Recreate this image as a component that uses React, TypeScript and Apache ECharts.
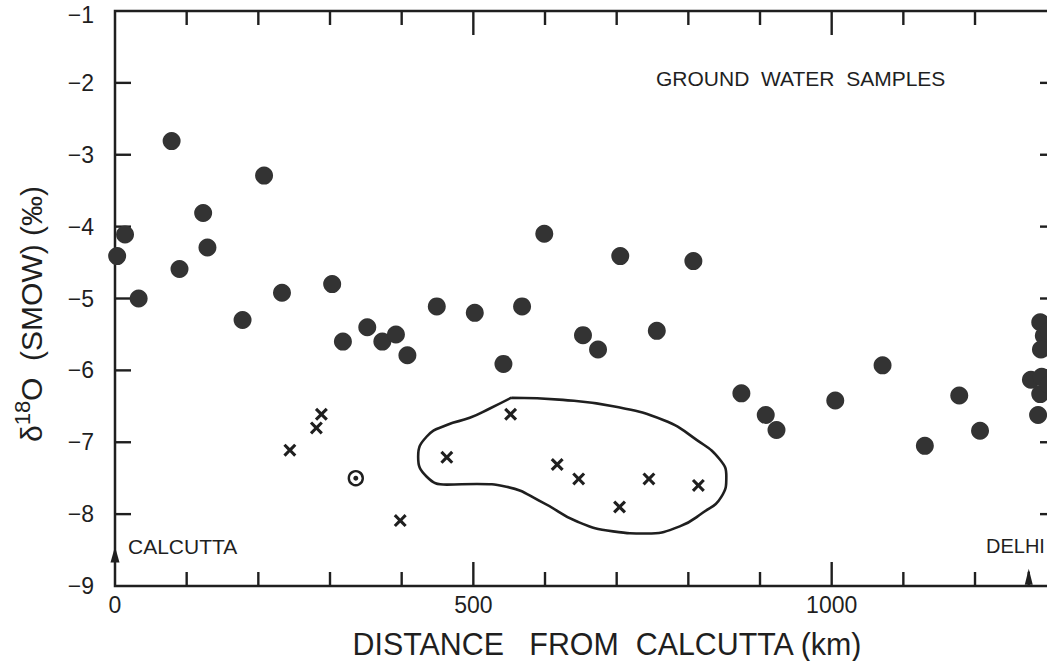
import React, { useEffect, useRef } from "react";
import * as echarts from "echarts";

// ---- axes ----
const X_MIN = 0;
const X_MAX = 1313;
const Y_MIN = -9;
const Y_MAX = -1;
const xLabelValues = [0, 500, 1000];
const xMajorTicks = [500, 1000];
const xMinorTicks = [100, 200, 300, 400, 600, 700, 800, 900, 1100, 1200];
const yTickValues = [-2, -3, -4, -5, -6, -7, -8];

// ---- data (distance from Calcutta in km, delta 18O in permil) ----
const filledDots: [number, number][] = [
  [3, -4.41], [14, -4.11], [33, -5.0], [79, -2.81], [90, -4.59], [123, -3.81],
  [129, -4.29], [208, -3.29], [178, -5.3], [233, -4.92], [303, -4.8], [318, -5.6],
  [352, -5.4], [373, -5.6], [392, -5.5], [408, -5.79], [449, -5.11], [502, -5.2],
  [542, -5.91], [568, -5.11], [599, -4.1], [653, -5.51], [674, -5.71], [705, -4.41],
  [756, -5.45], [807, -4.48], [874, -6.32], [908, -6.62], [923, -6.83], [1005, -6.42],
  [1071, -5.93], [1130, -7.05], [1178, -6.35], [1207, -6.84],
  [1291, -5.33], [1296, -5.52], [1292, -5.71], [1278, -6.13], [1293, -6.09],
  [1291, -6.33], [1288, -6.62], [1303, -5.45], [1303, -6.2],
];

const crosses: [number, number][] = [
  [244, -7.11], [281, -6.8], [288, -6.61], [398, -8.09], [463, -7.21], [552, -6.61],
  [617, -7.31], [647, -7.51], [704, -7.9], [745, -7.51], [814, -7.6],
];

const circledPoint: [number, number][] = [[336, -7.5]];

const enclosure: [number, number][] = [
  [553, -6.38], [625, -6.41], [695, -6.5], [765, -6.69], [812, -6.97], [844, -7.24],
  [853, -7.48], [846, -7.76], [820, -7.98], [788, -8.17], [742, -8.27], [695, -8.24],
  [644, -8.1], [597, -7.84], [546, -7.62], [505, -7.58], [463, -7.59], [435, -7.48],
  [423, -7.2], [435, -6.92], [463, -6.76], [495, -6.66], [523, -6.53], [553, -6.38],
];

const calcuttaTip: [number, number][] = [[0, -8.45]];
const delhiShaft: [number, number][] = [[1275, -9], [1275, -8.8]];
const delhiTip: [number, number][] = [[1275, -8.76]];

const INK = "#1f1f1f";
const DOT = "#333";
const FONT = '"Liberation Sans", Arial, sans-serif';
const CROSS =
  "path://M0,1.7L1.7,0L5,3.3L8.3,0L10,1.7L6.7,5L10,8.3L8.3,10L5,6.7L1.7,10L0,8.3L3.3,5Z";

function xAxisDef(position: "bottom" | "top", labels: boolean) {
  return {
    type: "value",
    position,
    min: X_MIN,
    max: X_MAX,
    interval: 500,
    axisLine: { show: false },
    axisTick: { show: false },
    splitLine: { show: false },
    axisLabel: {
      show: labels,
      showMaxLabel: false,
      margin: 7,
      color: INK,
      fontSize: 23,
      fontFamily: FONT,
      formatter: (v: number) => (xLabelValues.indexOf(v) >= 0 ? String(v) : ""),
    },
  };
}

function yAxisDef(position: "left" | "right", labels: boolean) {
  return {
    type: "value",
    position,
    min: Y_MIN,
    max: Y_MAX,
    interval: 1,
    axisLine: { show: false },
    axisTick: { show: false },
    splitLine: { show: false },
    axisLabel: {
      show: labels,
      margin: 21,
      color: INK,
      fontSize: 23,
      fontFamily: FONT,
      formatter: (v: number) => {
        const s = v < 0 ? "\u2212" + Math.abs(v) : String(v);
        return v === Y_MAX ? "{t|" + s + "}" : s;
      },
      rich: {
        t: { fontSize: 23, fontFamily: FONT, color: INK, lineHeight: 18, padding: [7, 0, 0, 0] },
      },
    },
  };
}

const lineStyle = { stroke: INK, lineWidth: 2.4 };

export default function App() {
  const ref = useRef<HTMLDivElement>(null);

  useEffect(() => {
    if (!ref.current) return;
    const chart = echarts.init(ref.current, null, { renderer: "svg" });
    chart.setOption({
      animation: false,
      backgroundColor: "#ffffff",
      grid: { left: 115, top: 11, width: 941, height: 575, containLabel: false, outerBoundsMode: "none" },
      xAxis: [xAxisDef("bottom", true), xAxisDef("top", false)],
      yAxis: [yAxisDef("left", true), yAxisDef("right", false)],
      series: [
        {
          // plot frame
          type: "custom",
          data: [[X_MIN, Y_MIN]],
          silent: true,
          z: 2,
          renderItem: (_p: any, api: any) => {
            const a = api.coord([X_MIN, Y_MAX]);
            const b = api.coord([X_MAX, Y_MIN]);
            return {
              type: "rect",
              shape: { x: a[0], y: a[1], width: b[0] - a[0], height: b[1] - a[1] },
              style: { fill: "none", stroke: INK, lineWidth: 2.5 },
            };
          },
        },
        {
          // x ticks, bottom and top, pointing inwards
          type: "custom",
          data: [...xMajorTicks, ...xMinorTicks].map((v) => [v, Y_MIN]),
          silent: true,
          z: 2,
          renderItem: (_p: any, api: any) => {
            const v = api.value(0);
            const len = xMajorTicks.indexOf(v) >= 0 ? 24 : 14;
            const b = api.coord([v, Y_MIN]);
            const t = api.coord([v, Y_MAX]);
            return {
              type: "group",
              children: [
                { type: "line", shape: { x1: b[0], y1: b[1], x2: b[0], y2: b[1] - len }, style: lineStyle },
                { type: "line", shape: { x1: t[0], y1: t[1], x2: t[0], y2: t[1] + len }, style: lineStyle },
              ],
            };
          },
        },
        {
          // y ticks, left and right, pointing inwards
          type: "custom",
          data: yTickValues.map((v) => [X_MIN, v]),
          silent: true,
          z: 2,
          renderItem: (_p: any, api: any) => {
            const v = api.value(1);
            const l = api.coord([X_MIN, v]);
            const r = api.coord([X_MAX, v]);
            return {
              type: "group",
              children: [
                { type: "line", shape: { x1: l[0], y1: l[1], x2: l[0] + 16, y2: l[1] }, style: lineStyle },
                { type: "line", shape: { x1: r[0], y1: r[1], x2: r[0] - 16, y2: r[1] }, style: lineStyle },
              ],
            };
          },
        },
        {
          type: "line",
          data: enclosure,
          smooth: 0.5,
          symbol: "none",
          lineStyle: { color: INK, width: 2.6 },
          silent: true,
          z: 1,
        },
        {
          type: "scatter",
          data: filledDots,
          symbol: "circle",
          symbolSize: 18,
          itemStyle: { color: DOT, opacity: 1 },
          clip: false,
          z: 3,
        },
        {
          type: "scatter",
          data: crosses,
          symbol: CROSS,
          symbolSize: 13,
          itemStyle: { color: INK, opacity: 1 },
          z: 3,
        },
        {
          type: "scatter",
          data: circledPoint,
          symbol: "circle",
          symbolSize: 14,
          itemStyle: { color: "#fff", borderColor: INK, borderWidth: 2.4, opacity: 1 },
          z: 3,
        },
        {
          type: "scatter",
          data: circledPoint,
          symbol: "circle",
          symbolSize: 5,
          itemStyle: { color: INK, opacity: 1 },
          z: 4,
        },
        {
          type: "scatter",
          data: calcuttaTip,
          symbol: "triangle",
          symbolSize: [9, 16],
          symbolOffset: [0, 8],
          itemStyle: { color: INK, opacity: 1 },
          clip: false,
          z: 5,
        },
        {
          type: "line",
          data: delhiShaft,
          symbol: "none",
          lineStyle: { color: INK, width: 2.4 },
          z: 5,
        },
        {
          type: "scatter",
          data: delhiTip,
          symbol: "triangle",
          symbolSize: [8, 16],
          symbolOffset: [0, 8],
          itemStyle: { color: INK, opacity: 1 },
          z: 5,
        },
      ],
      graphic: [
        {
          type: "text",
          x: 656,
          y: 78,
          style: {
            text: "GROUND  WATER  SAMPLES",
            fontSize: 21,
            fontFamily: FONT,
            fill: INK,
            textVerticalAlign: "middle",
          },
        },
        {
          type: "text",
          x: 128,
          y: 546,
          style: {
            text: "CALCUTTA",
            fontSize: 21,
            fontFamily: FONT,
            fill: INK,
            textVerticalAlign: "middle",
          },
        },
        {
          type: "text",
          x: 986,
          y: 546,
          style: {
            text: "DELHI",
            fontSize: 20,
            fontFamily: FONT,
            fill: INK,
            textVerticalAlign: "middle",
          },
        },
        {
          type: "text",
          x: 607,
          y: 644,
          scaleX: 0.95,
          style: {
            text: "DISTANCE   FROM  CALCUTTA (km)",
            fontSize: 32,
            fontFamily: FONT,
            fill: INK,
            textAlign: "center",
            textVerticalAlign: "middle",
          },
        },
        {
          type: "text",
          x: 31,
          y: 314,
          rotation: Math.PI / 2,
          style: {
            text: "{a|\u03b4}{s|18}{a|O  (SMOW) (\u2030)}",
            textAlign: "center",
            textVerticalAlign: "middle",
            rich: {
              a: { fontSize: 30, fontFamily: FONT, fill: INK, lineHeight: 40 },
              s: { fontSize: 22, fontFamily: FONT, fill: INK, lineHeight: 22, verticalAlign: "top" },
            },
          },
        },
      ],
    });
    return () => chart.dispose();
  }, []);

  return (
    <div
      style={{
        position: "fixed",
        left: 0,
        top: 0,
        width: 1047,
        height: 661,
        overflow: "hidden",
        background: "#fff",
      }}
    >
      <div ref={ref} style={{ width: 1075, height: 661 }} />
    </div>
  );
}
